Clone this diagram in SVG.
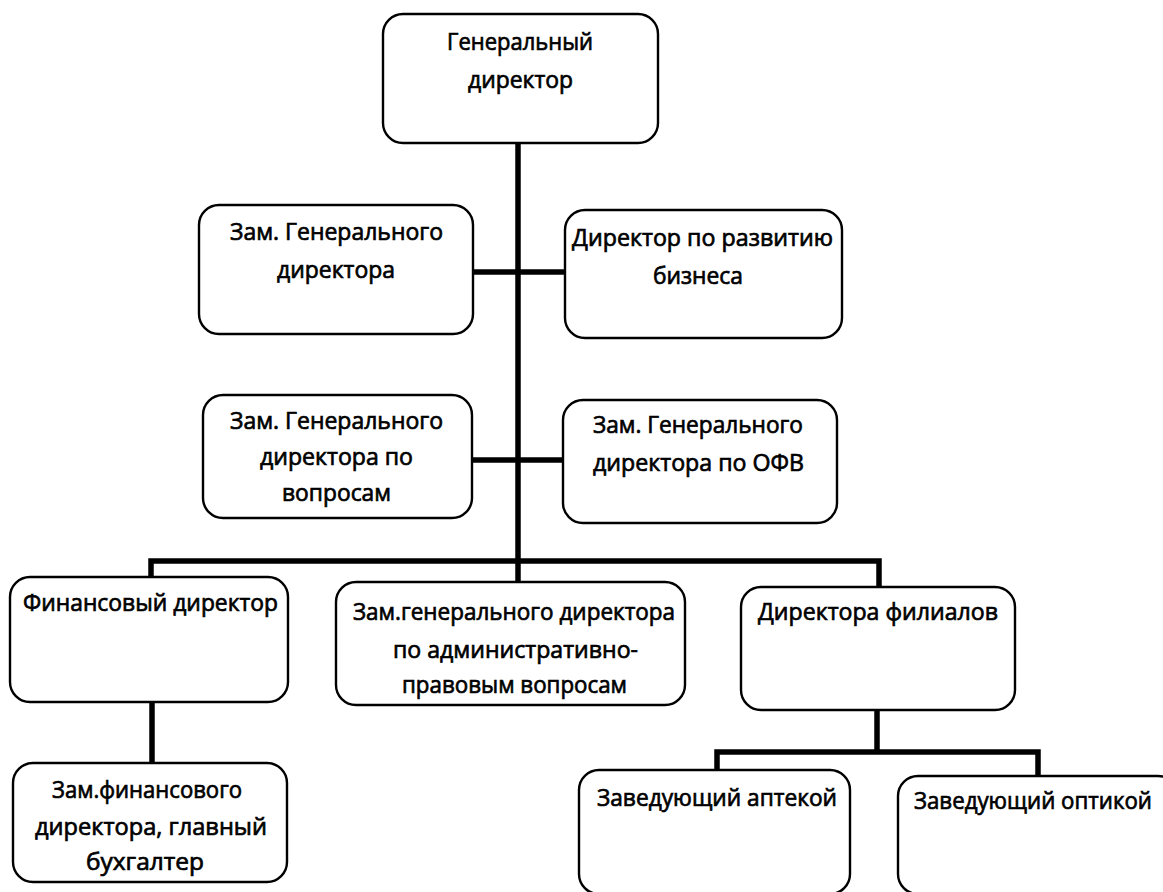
<svg xmlns="http://www.w3.org/2000/svg" width="1163" height="892" viewBox="0 0 1163 892">
<style>
.box{fill:#fff;stroke:#000;stroke-width:2.4}
.t{font-family:"Open Sans","Liberation Sans",Arial,sans-serif;font-size:24px;fill:#000;stroke:#000;stroke-width:0.7;text-anchor:middle}
.c{fill:none;stroke:#000;stroke-width:5.5;stroke-linejoin:miter}
</style>
<rect width="1163" height="892" fill="#fff"/>
<g id="connectors">
<path class="c" d="M518,143 V582"/>
<path class="c" d="M473,272 H565"/>
<path class="c" d="M472,460 H562"/>
<path class="c" d="M151,577 V561 H879 V587"/>
<path class="c" d="M152,702 V763"/>
<path class="c" d="M877,710 V752"/>
<path class="c" d="M717,770 V752 H1038 V776"/>
</g>
<g id="n1"><rect class="box" x="383" y="14" width="275" height="129" rx="20"/>
<text class="t" x="520" y="50" textLength="146" lengthAdjust="spacingAndGlyphs">Генеральный</text><text class="t" x="520.5" y="88" textLength="105" lengthAdjust="spacingAndGlyphs">директор</text></g>
<g id="n2"><rect class="box" x="199" y="205" width="274" height="129" rx="20"/>
<text class="t" x="336.5" y="240" textLength="213" lengthAdjust="spacingAndGlyphs">Зам. Генерального</text><text class="t" x="336" y="278" textLength="118" lengthAdjust="spacingAndGlyphs">директора</text></g>
<g id="n3"><rect class="box" x="565" y="210" width="277" height="128" rx="20"/>
<text class="t" x="702.5" y="246" textLength="261" lengthAdjust="spacingAndGlyphs">Директор по развитию</text><text class="t" x="698" y="284" textLength="90" lengthAdjust="spacingAndGlyphs">бизнеса</text></g>
<g id="n4"><rect class="box" x="203" y="395" width="269" height="123" rx="20"/>
<text class="t" x="336.5" y="429" textLength="213" lengthAdjust="spacingAndGlyphs">Зам. Генерального</text><text class="t" x="336.5" y="465" textLength="153" lengthAdjust="spacingAndGlyphs">директора по</text><text class="t" x="336.5" y="501" textLength="109" lengthAdjust="spacingAndGlyphs">вопросам</text></g>
<g id="n5"><rect class="box" x="563" y="400" width="274" height="123" rx="20"/>
<text class="t" x="698" y="433" textLength="210" lengthAdjust="spacingAndGlyphs">Зам. Генерального</text><text class="t" x="698.5" y="471" textLength="211" lengthAdjust="spacingAndGlyphs">директора по ОФВ</text></g>
<g id="n6"><rect class="box" x="10" y="577" width="278" height="125" rx="20"/>
<text class="t" x="150.5" y="611" textLength="255" lengthAdjust="spacingAndGlyphs">Финансовый директор</text></g>
<g id="n7"><rect class="box" x="336" y="582" width="349" height="123" rx="20"/>
<text class="t" x="514" y="620" textLength="322" lengthAdjust="spacingAndGlyphs">Зам.генерального директора</text><text class="t" x="515.5" y="658" textLength="245" lengthAdjust="spacingAndGlyphs">по административно-</text><text class="t" x="514.5" y="693" textLength="225" lengthAdjust="spacingAndGlyphs">правовым вопросам</text></g>
<g id="n8"><rect class="box" x="741" y="587" width="274" height="123" rx="20"/>
<text class="t" x="878" y="620" textLength="240" lengthAdjust="spacingAndGlyphs">Директора филиалов</text></g>
<g id="n9"><rect class="box" x="13" y="763" width="274" height="119" rx="20"/>
<text class="t" x="147" y="798" textLength="190" lengthAdjust="spacingAndGlyphs">Зам.финансового</text><text class="t" x="151" y="835" textLength="232" lengthAdjust="spacingAndGlyphs">директора, главный</text><text class="t" x="145" y="870" textLength="118" lengthAdjust="spacingAndGlyphs">бухгалтер</text></g>
<g id="n10"><rect class="box" x="579" y="770" width="271" height="124" rx="20"/>
<text class="t" x="717" y="806" textLength="240" lengthAdjust="spacingAndGlyphs">Заведующий аптекой</text></g>
<g id="n11"><rect class="box" x="898" y="776" width="280" height="118" rx="20"/>
<text class="t" x="1033" y="809" textLength="238" lengthAdjust="spacingAndGlyphs">Заведующий оптикой</text></g>
</svg>
